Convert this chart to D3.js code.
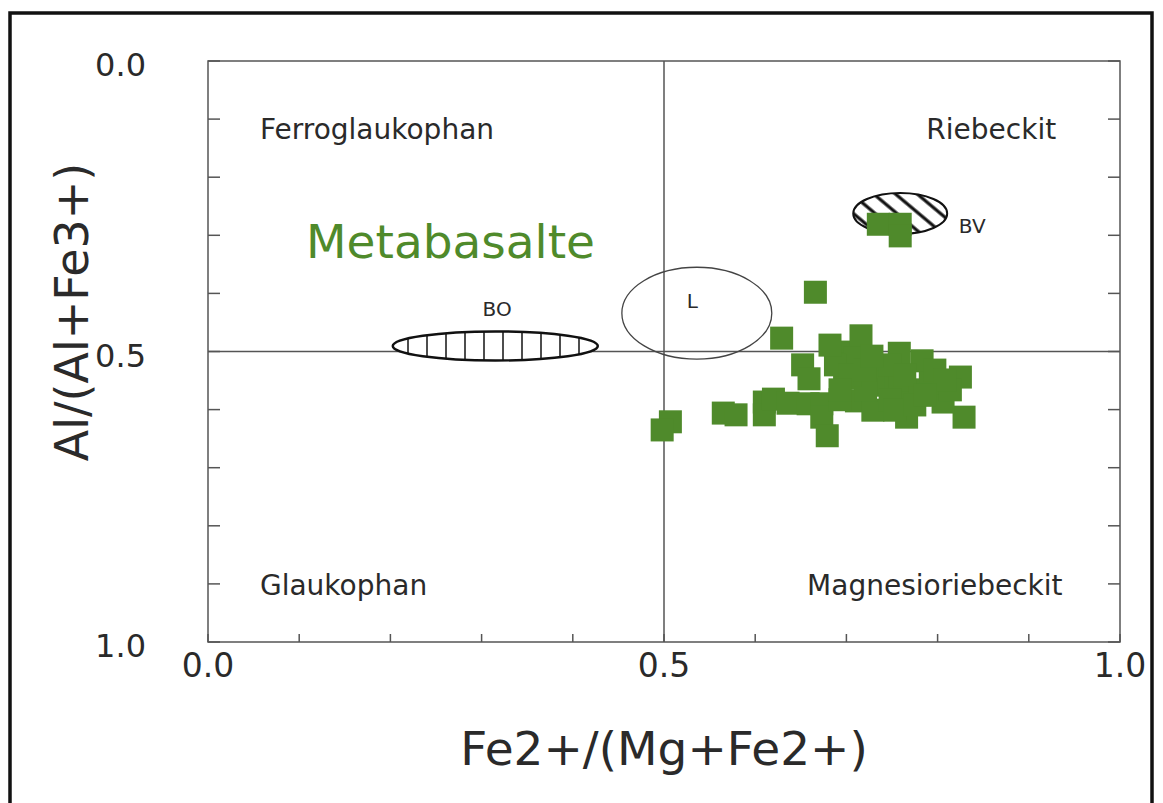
<!DOCTYPE html>
<html>
<head>
<meta charset="utf-8">
<script src="https://cdn.jsdelivr.net/npm/d3@7"></script>
<style>
  body { margin: 0; background: #fff; }
  text { font-family: "DejaVu Sans", sans-serif; fill: #2a2a2a; }
</style>
</head>
<body>
<script>
'use strict';

// measured points, Fe2+/(Mg+Fe2+)
const feRatio = [0.507, 0.498, 0.565, 0.579, 0.610, 0.610, 0.620, 0.636, 0.658, 0.673,
  0.673, 0.679, 0.652, 0.659, 0.629, 0.666, 0.693, 0.698, 0.716, 0.709,
  0.711, 0.729, 0.740, 0.740, 0.758, 0.783, 0.766, 0.825, 0.829, 0.806,
  0.792, 0.768, 0.729, 0.698, 0.721, 0.759, 0.781, 0.735, 0.759, 0.759, 0.693,
  0.688, 0.704, 0.720, 0.748, 0.764, 0.797, 0.814, 0.748, 0.693, 0.682,
  0.728, 0.753, 0.775, 0.808, 0.786];
// measured points, Al/(Al+Fe3+)
const alRatio = [0.621, 0.635, 0.606, 0.609, 0.587, 0.609, 0.582, 0.589, 0.590, 0.590,
  0.613, 0.645, 0.523, 0.547, 0.477, 0.398, 0.501, 0.522, 0.473, 0.511,
  0.585, 0.601, 0.532, 0.558, 0.503, 0.516, 0.613, 0.544, 0.613, 0.587,
  0.554, 0.566, 0.552, 0.546, 0.566, 0.549, 0.575, 0.281, 0.281, 0.301, 0.583,
  0.523, 0.540, 0.532, 0.523, 0.540, 0.532, 0.566, 0.583, 0.566, 0.489,
  0.508, 0.601, 0.592, 0.549, 0.575];

// reference fields (ellipses)
const fieldNames = ['BO', 'L', 'BV'];
const fieldCx = [0.315, 0.536, 0.759];
const fieldCy = [0.4905, 0.434, 0.2625];
const fieldRx = [0.1124, 0.0822, 0.0515];
const fieldRy = [0.025, 0.079, 0.0353];
const fieldLabelX = [0.317, 0.531, 0.838];
const fieldLabelY = [0.43, 0.415, 0.286];

// quadrant names
const regionNames = ['Ferroglaukophan', 'Riebeckit', 'Glaukophan', 'Magnesioriebeckit'];
const regionX = [0.057, 0.93, 0.057, 0.937];
const regionY = [0.12, 0.12, 0.905, 0.905];

const tickLabels = ['0.0', '0.5', '1.0'];
const minorTicks = d3.range(0, 1.0001, 0.1);

(function () {
  let svg = '';
  let xScale, yScale;

  window.onload = function () {
    svg = d3.select('body')
      .append('svg')
      .attr('width', 1163)
      .attr('height', 803);

    // outer frame
    svg.append('rect')
      .attr('x', 10).attr('y', 13)
      .attr('width', 1142).attr('height', 800)
      .attr('fill', 'none')
      .attr('stroke', '#111')
      .attr('stroke-width', 3.5);

    xScale = d3.scaleLinear().domain([0, 1]).range([208, 1120]);
    yScale = d3.scaleLinear().domain([0, 1]).range([61, 642]);

    drawAxes();
    drawFields();
    plotDots();
    makeLabels();
  };

  function drawAxes() {
    let g = svg.append('g').attr('stroke', '#555').attr('stroke-width', 1.5);

    g.append('rect')
      .attr('x', xScale(0)).attr('y', yScale(0))
      .attr('width', xScale(1) - xScale(0))
      .attr('height', yScale(1) - yScale(0))
      .attr('fill', 'none');

    // inward ticks left / right
    g.selectAll('.yl').data(minorTicks).enter().append('line')
      .attr('x1', xScale(0)).attr('x2', xScale(0) + 12)
      .attr('y1', (d) => yScale(d)).attr('y2', (d) => yScale(d));
    g.selectAll('.yr').data(minorTicks).enter().append('line')
      .attr('x1', xScale(1)).attr('x2', xScale(1) - 12)
      .attr('y1', (d) => yScale(d)).attr('y2', (d) => yScale(d));
    // inward ticks bottom
    g.selectAll('.xb').data(minorTicks).enter().append('line')
      .attr('x1', (d) => xScale(d)).attr('x2', (d) => xScale(d))
      .attr('y1', yScale(1)).attr('y2', yScale(1) - 8);

    // cross lines at 0.5
    g.append('line')
      .attr('x1', xScale(0.5)).attr('x2', xScale(0.5))
      .attr('y1', yScale(0)).attr('y2', yScale(1));
    g.append('line')
      .attr('x1', xScale(0)).attr('x2', xScale(1))
      .attr('y1', yScale(0.5)).attr('y2', yScale(0.5));

    // tick labels
    svg.selectAll('.xt').data(tickLabels).enter().append('text')
      .attr('x', (d) => xScale(+d))
      .attr('y', 677)
      .attr('text-anchor', 'middle')
      .style('font-size', '33px')
      .text((d) => d);
    svg.selectAll('.yt').data(tickLabels).enter().append('text')
      .attr('x', 146)
      .attr('y', (d) => yScale(+d) + 6)
      .attr('dominant-baseline', 'middle')
      .attr('text-anchor', 'end')
      .style('font-size', '32px')
      .text((d) => d);
  }

  function drawFields() {
    let defs = svg.append('defs');

    // vertical hatch for BO
    let p1 = defs.append('pattern')
      .attr('id', 'hatchV')
      .attr('patternUnits', 'userSpaceOnUse')
      .attr('x', 0).attr('y', 0)
      .attr('width', 19).attr('height', 19);
    p1.append('line')
      .attr('x1', 9).attr('x2', 9).attr('y1', 0).attr('y2', 19)
      .attr('stroke', '#111').attr('stroke-width', 1.5);

    // diagonal hatch for BV, top-left to bottom-right
    let p2 = defs.append('pattern')
      .attr('id', 'hatchD')
      .attr('patternUnits', 'userSpaceOnUse')
      .attr('width', 14).attr('height', 14)
      .attr('patternTransform', 'rotate(40)');
    p2.append('line')
      .attr('x1', 0).attr('x2', 14).attr('y1', 7).attr('y2', 7)
      .attr('stroke', '#111').attr('stroke-width', 3.2);

    let fills = ['url(#hatchV)', 'none', 'url(#hatchD)'];
    let strokes = ['#111', '#444', '#111'];
    let widths = [2.5, 1.3, 2];
    let fieldData = fieldNames.map((n, i) => i);

    svg.selectAll('.field')
      .data(fieldData)
      .enter()
      .append('ellipse')
      .attr('cx', (i) => xScale(fieldCx[i]))
      .attr('cy', (i) => yScale(fieldCy[i]))
      .attr('rx', (i) => xScale(fieldRx[i]) - xScale(0))
      .attr('ry', (i) => yScale(fieldRy[i]) - yScale(0))
      .attr('fill', (i) => fills[i] === 'none' ? 'none' : '#fff')
      .attr('stroke', 'none');

    svg.selectAll('.fieldHatch')
      .data(fieldData)
      .enter()
      .append('ellipse')
      .attr('cx', (i) => xScale(fieldCx[i]))
      .attr('cy', (i) => yScale(fieldCy[i]))
      .attr('rx', (i) => xScale(fieldRx[i]) - xScale(0))
      .attr('ry', (i) => yScale(fieldRy[i]) - yScale(0))
      .attr('fill', (i) => fills[i])
      .attr('stroke', (i) => strokes[i])
      .attr('stroke-width', (i) => widths[i]);

    svg.selectAll('.fieldLabel')
      .data(fieldData)
      .enter()
      .append('text')
      .attr('x', (i) => xScale(fieldLabelX[i]))
      .attr('y', (i) => yScale(fieldLabelY[i]))
      .attr('text-anchor', 'middle')
      .attr('dominant-baseline', 'middle')
      .style('font-size', '20px')
      .text((i) => fieldNames[i]);
  }

  function plotDots() {
    let size = 23;
    svg.selectAll('.dot')
      .data(feRatio)
      .enter()
      .append('rect')
      .attr('x', (d) => xScale(d) - size / 2)
      .attr('y', (d, i) => yScale(alRatio[i]) - size / 2)
      .attr('width', size)
      .attr('height', size)
      .attr('fill', '#4f8a2b');
  }

  function makeLabels() {
    svg.selectAll('.region')
      .data(regionNames)
      .enter()
      .append('text')
      .attr('x', (d, i) => xScale(regionX[i]))
      .attr('y', (d, i) => yScale(regionY[i]))
      .attr('text-anchor', (d, i) => i % 2 === 0 ? 'start' : 'end')
      .attr('dominant-baseline', 'middle')
      .style('font-size', '28px')
      .text((d) => d);

    svg.append('text')
      .attr('x', 306)
      .attr('y', 245)
      .attr('dominant-baseline', 'middle')
      .style('font-size', '47px')
      .style('fill', '#4f8a2b')
      .text('Metabasalte');

    svg.append('text')
      .attr('x', xScale(0.5))
      .attr('y', 765)
      .attr('text-anchor', 'middle')
      .style('font-size', '47px')
      .text('Fe2+/(Mg+Fe2+)');

    svg.append('text')
      .attr('transform', 'translate(88, 312)rotate(-90)')
      .attr('text-anchor', 'middle')
      .style('font-size', '46px')
      .text('Al/(Al+Fe3+)');
  }
})();
</script>
</body>
</html>
